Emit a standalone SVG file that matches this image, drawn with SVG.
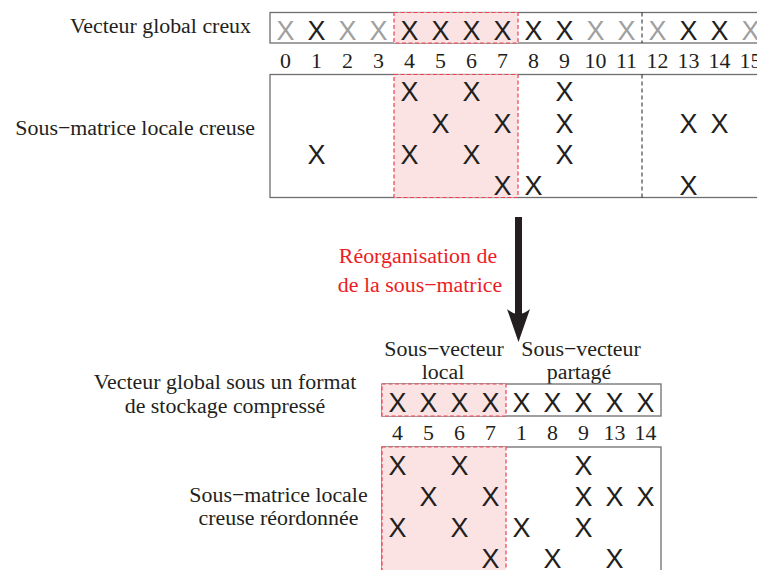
<svg xmlns="http://www.w3.org/2000/svg" width="757" height="570" viewBox="0 0 757 570">
<style>
.x{font-family:"Liberation Sans",Arial,sans-serif;font-size:27px;text-anchor:middle;fill:#231f20}
.xg{fill:#a0a0a0}
.t{font-family:"Liberation Serif","Times New Roman",serif;font-size:21.9px;fill:#231f20}
.m{text-anchor:middle}
.e{text-anchor:end}
.red{fill:#ed1c24}
.box{fill:#fff;stroke:#6d6e71;stroke-width:1.3}
.loc{fill:#fbe3e4;stroke:#ef4050;stroke-width:1.2;stroke-dasharray:4 2.5}
.sep{stroke:#231f20;stroke-width:1;stroke-dasharray:4 3;fill:none}
</style>
<rect width="757" height="570" fill="#fff"/>

<g id="label-top">
<text class="t e" x="251" y="33">Vecteur global creux</text>
<text class="t e" x="255" y="135">Sous−matrice locale creuse</text>
</g>

<g id="global-vector">
<rect class="box" x="270" y="12.5" width="500" height="30.5"/>
<rect class="loc" x="394" y="12.5" width="124" height="30.5"/>
<line class="sep" x1="642" y1="12.5" x2="642" y2="43"/>
<g class="x">
<text class="xg" x="285.5" y="40">X</text>
<text x="316.5" y="40">X</text>
<text class="xg" x="347.5" y="40">X</text>
<text class="xg" x="378.5" y="40">X</text>
<text x="409.5" y="40">X</text>
<text x="440.5" y="40">X</text>
<text x="471.5" y="40">X</text>
<text x="502.5" y="40">X</text>
<text x="533.5" y="40">X</text>
<text x="564.5" y="40">X</text>
<text class="xg" x="595.5" y="40">X</text>
<text class="xg" x="626.5" y="40">X</text>
<text class="xg" x="657.5" y="40">X</text>
<text x="688.5" y="40">X</text>
<text x="719.5" y="40">X</text>
<text class="xg" x="750.5" y="40">X</text>
</g>
<g class="t m">
<text x="285.5" y="68">0</text>
<text x="316.5" y="68">1</text>
<text x="347.5" y="68">2</text>
<text x="378.5" y="68">3</text>
<text x="409.5" y="68">4</text>
<text x="440.5" y="68">5</text>
<text x="471.5" y="68">6</text>
<text x="502.5" y="68">7</text>
<text x="533.5" y="68">8</text>
<text x="564.5" y="68">9</text>
<text x="595.5" y="68">10</text>
<text x="626.5" y="68">11</text>
<text x="657.5" y="68">12</text>
<text x="688.5" y="68">13</text>
<text x="719.5" y="68">14</text>
<text x="750.5" y="68">15</text>
</g>
</g>

<g id="local-matrix">
<rect class="box" x="270" y="74.5" width="500" height="123"/>
<rect class="loc" x="394" y="74.5" width="124" height="123"/>
<line class="sep" x1="642" y1="74.5" x2="642" y2="197.5"/>
<g class="x">
<text x="409.5" y="101">X</text>
<text x="471.5" y="101">X</text>
<text x="564.5" y="101">X</text>
<text x="440.5" y="132.5">X</text>
<text x="502.5" y="132.5">X</text>
<text x="564.5" y="132.5">X</text>
<text x="688.5" y="132.5">X</text>
<text x="719.5" y="132.5">X</text>
<text x="316.5" y="164">X</text>
<text x="409.5" y="164">X</text>
<text x="471.5" y="164">X</text>
<text x="564.5" y="164">X</text>
<text x="502.5" y="195">X</text>
<text x="533.5" y="195">X</text>
<text x="688.5" y="195">X</text>
</g>
</g>

<g id="connectors">
<rect x="515" y="217" width="7" height="100" fill="#231f20"/>
<path d="M507,309 L518.5,342 L530,309 Q518.5,319 507,309 Z" fill="#231f20"/>
</g>

<g id="arrow-label">
<text class="t m red" x="418" y="263">Réorganisation de</text>
<text class="t m red" x="420" y="292">de la sous−matrice</text>
</g>

<g id="subvector-labels">
<text class="t m" x="444" y="355.5">Sous−vecteur</text>
<text class="t m" x="443" y="378.5">local</text>
<text class="t m" x="581" y="355.5">Sous−vecteur</text>
<text class="t m" x="579" y="378.5">partagé</text>
</g>

<g id="label-bottom">
<text class="t m" x="225" y="389">Vecteur global sous un format</text>
<text class="t m" x="225" y="413">de stockage compressé</text>
<text class="t m" x="278.5" y="502">Sous−matrice locale</text>
<text class="t m" x="278.5" y="525">creuse réordonnée</text>
</g>

<g id="compressed-vector">
<rect class="box" x="382" y="384" width="279" height="32"/>
<rect class="loc" x="382" y="384" width="124" height="32"/>
<g class="x">
<text x="397.5" y="412">X</text>
<text x="428.5" y="412">X</text>
<text x="459.5" y="412">X</text>
<text x="490.5" y="412">X</text>
<text x="521.5" y="412">X</text>
<text x="552.5" y="412">X</text>
<text x="583.5" y="412">X</text>
<text x="614.5" y="412">X</text>
<text x="645.5" y="412">X</text>
</g>
<g class="t m">
<text x="397.5" y="440">4</text>
<text x="428.5" y="440">5</text>
<text x="459.5" y="440">6</text>
<text x="490.5" y="440">7</text>
<text x="521.5" y="440">1</text>
<text x="552.5" y="440">8</text>
<text x="583.5" y="440">9</text>
<text x="614.5" y="440">13</text>
<text x="645.5" y="440">14</text>
</g>
</g>

<g id="reordered-matrix">
<rect class="box" x="382" y="447" width="279" height="140"/>
<rect class="loc" x="382" y="447" width="124" height="140"/>
<g class="x">
<text x="397.5" y="475">X</text>
<text x="459.5" y="475">X</text>
<text x="583.5" y="475">X</text>
<text x="428.5" y="506">X</text>
<text x="490.5" y="506">X</text>
<text x="583.5" y="506">X</text>
<text x="614.5" y="506">X</text>
<text x="645.5" y="506">X</text>
<text x="397.5" y="537">X</text>
<text x="459.5" y="537">X</text>
<text x="521.5" y="537">X</text>
<text x="583.5" y="537">X</text>
<text x="490.5" y="568">X</text>
<text x="552.5" y="568">X</text>
<text x="614.5" y="568">X</text>
</g>
</g>
</svg>
